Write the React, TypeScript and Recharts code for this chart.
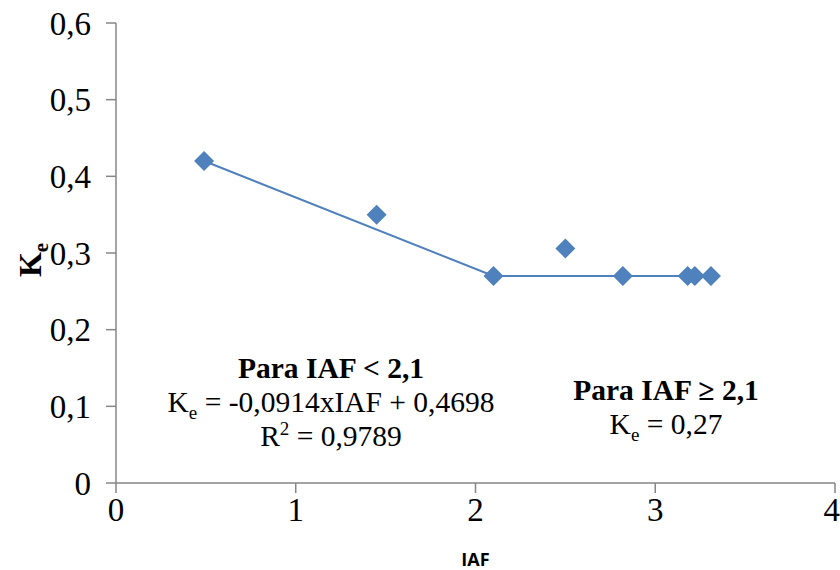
import React from "react";
import { ScatterChart, Scatter, XAxis, YAxis, Label } from "recharts";

// measured points (IAF vs Ke)
const iaf = [0.49, 1.45, 2.1, 2.5, 2.82, 3.18, 3.22, 3.31];
const ke = [0.42, 0.35, 0.27, 0.306, 0.27, 0.27, 0.27, 0.27];

// fitted segments
const fitLowX = [0.49, 2.1];
const fitLowY = [0.42, 0.27];
const fitHighX = [2.1, 3.31];
const fitHighY = [0.27, 0.27];

const xTicks = [0, 1, 2, 3, 4];
const yTicks = [0, 0.1, 0.2, 0.3, 0.4, 0.5, 0.6];

const BLUE = "#4F81BD";
const AXIS = "#868686";
const SERIF = "'Liberation Serif', 'Times New Roman', serif";

const points = iaf.map((x, i) => ({ x, y: ke[i] }));
const lowLine = fitLowX.map((x, i) => ({ x, y: fitLowY[i] }));
const highLine = fitHighX.map((x, i) => ({ x, y: fitHighY[i] }));

function Diamond(props: { cx?: number; cy?: number }) {
  const { cx = 0, cy = 0 } = props;
  const r = 10;
  return (
    <polygon
      points={`${cx},${cy - r} ${cx + r},${cy} ${cx},${cy + r} ${cx - r},${cy}`}
      fill={BLUE}
    />
  );
}

const NoDot = () => <g />;

const fmt = (v: number) => String(v).replace(".", ",");

const subStyle = { fontSize: 19, lineHeight: 0 };

export default function App() {
  return (
    <div style={{ position: "absolute", left: 0, top: 0, width: 840, height: 570, background: "#fff" }}>
      <ScatterChart width={840} height={570} margin={{ top: 23, right: 5, bottom: 0, left: 0 }}>
        <XAxis
          type="number"
          dataKey="x"
          domain={[0, 4]}
          ticks={xTicks}
          stroke={AXIS}
          strokeWidth={1.5}
          tickSize={10}
          tickMargin={5}
          height={87}
          tick={{ fontFamily: SERIF, fontSize: 33, fill: "#000" }}
        >
          <Label
            value="IAF"
            position="insideBottom"
            offset={4}
            style={{ fontFamily: "'Open Sans', sans-serif", fontWeight: 700, fontSize: 18, fill: "#000" }}
          />
        </XAxis>
        <YAxis
          type="number"
          dataKey="y"
          domain={[0, 0.6]}
          ticks={yTicks}
          tickFormatter={fmt}
          stroke={AXIS}
          strokeWidth={1.5}
          tickSize={10}
          tickMargin={15}
          width={116}
          tick={{ fontFamily: SERIF, fontSize: 33, fill: "#000" }}
        />
        <Scatter data={lowLine} line={{ stroke: BLUE, strokeWidth: 2 }} shape={NoDot} isAnimationActive={false} />
        <Scatter data={highLine} line={{ stroke: BLUE, strokeWidth: 2 }} shape={NoDot} isAnimationActive={false} />
        <Scatter data={points} shape={Diamond} fill={BLUE} isAnimationActive={false} />
      </ScatterChart>

      {/* y axis title Ke */}
      <div
        style={{
          position: "absolute",
          left: 33,
          top: 260,
          transform: "translate(-50%, -50%) rotate(-90deg)",
          fontFamily: SERIF,
          fontWeight: 700,
          fontSize: 32,
          whiteSpace: "nowrap",
        }}
      >
        K<sub style={{ fontSize: 21 }}>e</sub>
      </div>

      {/* annotations */}
      <div
        style={{
          position: "absolute",
          left: 331,
          top: 351,
          transform: "translateX(-50%)",
          fontFamily: SERIF,
          fontSize: 29.5,
          lineHeight: "34px",
          textAlign: "center",
          whiteSpace: "nowrap",
        }}
      >
        <div style={{ fontWeight: 700 }}>Para IAF &lt; 2,1</div>
        <div>
          K<sub style={subStyle}>e</sub> = -0,0914xIAF + 0,4698
        </div>
        <div>
          R<sup style={subStyle}>2</sup> = 0,9789
        </div>
      </div>
      <div
        style={{
          position: "absolute",
          left: 666,
          top: 373,
          transform: "translateX(-50%)",
          fontFamily: SERIF,
          fontSize: 29.5,
          lineHeight: "34px",
          textAlign: "center",
          whiteSpace: "nowrap",
        }}
      >
        <div style={{ fontWeight: 700 }}>Para IAF ≥ 2,1</div>
        <div>
          K<sub style={subStyle}>e</sub> = 0,27
        </div>
      </div>
    </div>
  );
}
